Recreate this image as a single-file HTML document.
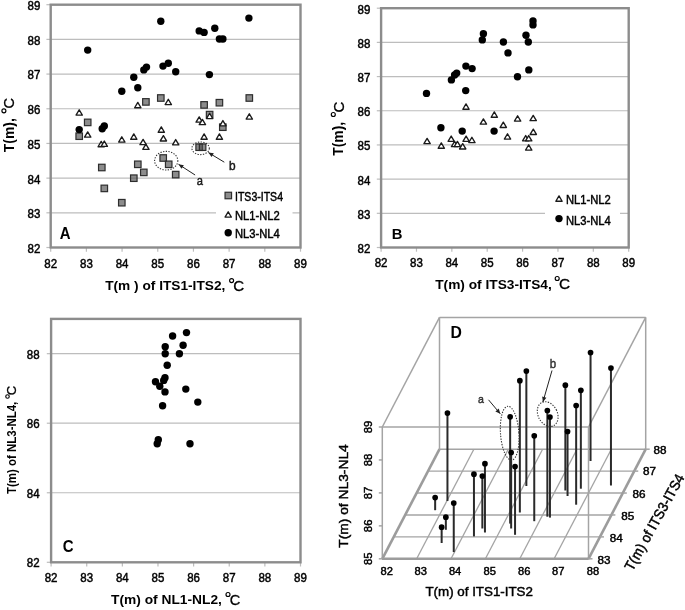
<!DOCTYPE html>
<html><head><meta charset="utf-8"><style>
html,body{margin:0;padding:0;background:#fff;width:685px;height:610px;overflow:hidden;}
body{position:relative;font-family:"Liberation Sans",sans-serif;}
</style></head><body>
<svg width="685" height="610" viewBox="0 0 685 610" style="position:absolute;left:0;top:0;will-change:transform" font-family="Liberation Sans, sans-serif">
<rect width="685" height="610" fill="#fff"/>
<line x1="50.7" y1="212.81428571428572" x2="300.5" y2="212.81428571428572" stroke="#bdbdbd" stroke-width="1.2"/>
<line x1="50.7" y1="178.12857142857143" x2="300.5" y2="178.12857142857143" stroke="#bdbdbd" stroke-width="1.2"/>
<line x1="50.7" y1="143.44285714285712" x2="300.5" y2="143.44285714285712" stroke="#bdbdbd" stroke-width="1.2"/>
<line x1="50.7" y1="108.75714285714284" x2="300.5" y2="108.75714285714284" stroke="#bdbdbd" stroke-width="1.2"/>
<line x1="50.7" y1="74.07142857142856" x2="300.5" y2="74.07142857142856" stroke="#bdbdbd" stroke-width="1.2"/>
<line x1="50.7" y1="39.38571428571424" x2="300.5" y2="39.38571428571424" stroke="#bdbdbd" stroke-width="1.2"/>
<line x1="46.400000000000006" y1="247.5" x2="50.7" y2="247.5" stroke="#bdbdbd" stroke-width="1.2"/>
<line x1="46.400000000000006" y1="212.81428571428572" x2="50.7" y2="212.81428571428572" stroke="#bdbdbd" stroke-width="1.2"/>
<line x1="46.400000000000006" y1="178.12857142857143" x2="50.7" y2="178.12857142857143" stroke="#bdbdbd" stroke-width="1.2"/>
<line x1="46.400000000000006" y1="143.44285714285712" x2="50.7" y2="143.44285714285712" stroke="#bdbdbd" stroke-width="1.2"/>
<line x1="46.400000000000006" y1="108.75714285714284" x2="50.7" y2="108.75714285714284" stroke="#bdbdbd" stroke-width="1.2"/>
<line x1="46.400000000000006" y1="74.07142857142856" x2="50.7" y2="74.07142857142856" stroke="#bdbdbd" stroke-width="1.2"/>
<line x1="46.400000000000006" y1="39.38571428571424" x2="50.7" y2="39.38571428571424" stroke="#bdbdbd" stroke-width="1.2"/>
<line x1="46.400000000000006" y1="4.69999999999996" x2="50.7" y2="4.69999999999996" stroke="#bdbdbd" stroke-width="1.2"/>
<line x1="50.7" y1="247.5" x2="50.7" y2="251.7" stroke="#bdbdbd" stroke-width="1.2"/>
<line x1="86.3857142857143" y1="247.5" x2="86.3857142857143" y2="251.7" stroke="#bdbdbd" stroke-width="1.2"/>
<line x1="122.07142857142858" y1="247.5" x2="122.07142857142858" y2="251.7" stroke="#bdbdbd" stroke-width="1.2"/>
<line x1="157.75714285714287" y1="247.5" x2="157.75714285714287" y2="251.7" stroke="#bdbdbd" stroke-width="1.2"/>
<line x1="193.44285714285718" y1="247.5" x2="193.44285714285718" y2="251.7" stroke="#bdbdbd" stroke-width="1.2"/>
<line x1="229.12857142857143" y1="247.5" x2="229.12857142857143" y2="251.7" stroke="#bdbdbd" stroke-width="1.2"/>
<line x1="264.81428571428575" y1="247.5" x2="264.81428571428575" y2="251.7" stroke="#bdbdbd" stroke-width="1.2"/>
<line x1="300.50000000000006" y1="247.5" x2="300.50000000000006" y2="251.7" stroke="#bdbdbd" stroke-width="1.2"/>
<rect x="50.7" y="4.7" width="249.8" height="242.8" fill="none" stroke="#8c8c8c" stroke-width="2.4"/>
<rect x="216" y="188" width="76.5" height="55" fill="#fff"/>
<rect x="75.95" y="132.95" width="6.5" height="6.5" fill="#505050" fill-opacity="0.66" stroke="#2d2d2d" stroke-width="1.2"/>
<rect x="84.45" y="119.15" width="6.5" height="6.5" fill="#505050" fill-opacity="0.66" stroke="#2d2d2d" stroke-width="1.2"/>
<rect x="98.55" y="164.25" width="6.5" height="6.5" fill="#505050" fill-opacity="0.66" stroke="#2d2d2d" stroke-width="1.2"/>
<rect x="101.05" y="185.15" width="6.5" height="6.5" fill="#505050" fill-opacity="0.66" stroke="#2d2d2d" stroke-width="1.2"/>
<rect x="118.55" y="199.45" width="6.5" height="6.5" fill="#505050" fill-opacity="0.66" stroke="#2d2d2d" stroke-width="1.2"/>
<rect x="130.55" y="174.95" width="6.5" height="6.5" fill="#505050" fill-opacity="0.66" stroke="#2d2d2d" stroke-width="1.2"/>
<rect x="134.55" y="161.05" width="6.5" height="6.5" fill="#505050" fill-opacity="0.66" stroke="#2d2d2d" stroke-width="1.2"/>
<rect x="140.55" y="169.15" width="6.5" height="6.5" fill="#505050" fill-opacity="0.66" stroke="#2d2d2d" stroke-width="1.2"/>
<rect x="142.65" y="98.65" width="6.5" height="6.5" fill="#505050" fill-opacity="0.66" stroke="#2d2d2d" stroke-width="1.2"/>
<rect x="157.55" y="94.75" width="6.5" height="6.5" fill="#505050" fill-opacity="0.66" stroke="#2d2d2d" stroke-width="1.2"/>
<rect x="159.95" y="154.75" width="6.5" height="6.5" fill="#505050" fill-opacity="0.66" stroke="#2d2d2d" stroke-width="1.2"/>
<rect x="165.45" y="161.05" width="6.5" height="6.5" fill="#505050" fill-opacity="0.66" stroke="#2d2d2d" stroke-width="1.2"/>
<rect x="172.45" y="171.35" width="6.5" height="6.5" fill="#505050" fill-opacity="0.66" stroke="#2d2d2d" stroke-width="1.2"/>
<rect x="195.90" y="143.95" width="6.5" height="6.5" fill="#505050" fill-opacity="0.66" stroke="#2d2d2d" stroke-width="1.2"/>
<rect x="199.35" y="143.95" width="6.5" height="6.5" fill="#505050" fill-opacity="0.66" stroke="#2d2d2d" stroke-width="1.2"/>
<rect x="200.85" y="101.65" width="6.5" height="6.5" fill="#505050" fill-opacity="0.66" stroke="#2d2d2d" stroke-width="1.2"/>
<rect x="206.35" y="111.35" width="6.5" height="6.5" fill="#505050" fill-opacity="0.66" stroke="#2d2d2d" stroke-width="1.2"/>
<rect x="216.15" y="99.45" width="6.5" height="6.5" fill="#505050" fill-opacity="0.66" stroke="#2d2d2d" stroke-width="1.2"/>
<rect x="219.55" y="123.95" width="6.5" height="6.5" fill="#505050" fill-opacity="0.66" stroke="#2d2d2d" stroke-width="1.2"/>
<rect x="246.05" y="94.75" width="6.5" height="6.5" fill="#505050" fill-opacity="0.66" stroke="#2d2d2d" stroke-width="1.2"/>
<polygon points="79.20,109.75 82.35,115.05 76.05,115.05" fill="#fff" stroke="#1a1a1a" stroke-width="1.35" stroke-linejoin="round"/>
<polygon points="87.70,131.85 90.85,137.15 84.55,137.15" fill="#fff" stroke="#1a1a1a" stroke-width="1.35" stroke-linejoin="round"/>
<polygon points="101.20,141.45 104.35,146.75 98.05,146.75" fill="#fff" stroke="#1a1a1a" stroke-width="1.35" stroke-linejoin="round"/>
<polygon points="104.30,141.05 107.45,146.35 101.15,146.35" fill="#fff" stroke="#1a1a1a" stroke-width="1.35" stroke-linejoin="round"/>
<polygon points="121.80,136.75 124.95,142.05 118.65,142.05" fill="#fff" stroke="#1a1a1a" stroke-width="1.35" stroke-linejoin="round"/>
<polygon points="133.80,133.95 136.95,139.25 130.65,139.25" fill="#fff" stroke="#1a1a1a" stroke-width="1.35" stroke-linejoin="round"/>
<polygon points="137.80,102.45 140.95,107.75 134.65,107.75" fill="#fff" stroke="#1a1a1a" stroke-width="1.35" stroke-linejoin="round"/>
<polygon points="143.10,139.35 146.25,144.65 139.95,144.65" fill="#fff" stroke="#1a1a1a" stroke-width="1.35" stroke-linejoin="round"/>
<polygon points="145.90,144.05 149.05,149.35 142.75,149.35" fill="#fff" stroke="#1a1a1a" stroke-width="1.35" stroke-linejoin="round"/>
<polygon points="161.30,126.95 164.45,132.25 158.15,132.25" fill="#fff" stroke="#1a1a1a" stroke-width="1.35" stroke-linejoin="round"/>
<polygon points="163.40,135.65 166.55,140.95 160.25,140.95" fill="#fff" stroke="#1a1a1a" stroke-width="1.35" stroke-linejoin="round"/>
<polygon points="168.30,99.25 171.45,104.55 165.15,104.55" fill="#fff" stroke="#1a1a1a" stroke-width="1.35" stroke-linejoin="round"/>
<polygon points="175.70,139.55 178.85,144.85 172.55,144.85" fill="#fff" stroke="#1a1a1a" stroke-width="1.35" stroke-linejoin="round"/>
<polygon points="199.20,116.85 202.35,122.15 196.05,122.15" fill="#fff" stroke="#1a1a1a" stroke-width="1.35" stroke-linejoin="round"/>
<polygon points="202.40,119.35 205.55,124.65 199.25,124.65" fill="#fff" stroke="#1a1a1a" stroke-width="1.35" stroke-linejoin="round"/>
<polygon points="204.10,133.95 207.25,139.25 200.95,139.25" fill="#fff" stroke="#1a1a1a" stroke-width="1.35" stroke-linejoin="round"/>
<polygon points="209.60,113.25 212.75,118.55 206.45,118.55" fill="#fff" stroke="#1a1a1a" stroke-width="1.35" stroke-linejoin="round"/>
<polygon points="219.40,133.95 222.55,139.25 216.25,139.25" fill="#fff" stroke="#1a1a1a" stroke-width="1.35" stroke-linejoin="round"/>
<polygon points="222.90,120.55 226.05,125.85 219.75,125.85" fill="#fff" stroke="#1a1a1a" stroke-width="1.35" stroke-linejoin="round"/>
<polygon points="249.30,113.75 252.45,119.05 246.15,119.05" fill="#fff" stroke="#1a1a1a" stroke-width="1.35" stroke-linejoin="round"/>
<circle cx="79.2" cy="129.6" r="3.7" fill="#000"/>
<circle cx="87.7" cy="50.1" r="3.7" fill="#000"/>
<circle cx="102.2" cy="128.8" r="3.7" fill="#000"/>
<circle cx="104.3" cy="126" r="3.7" fill="#000"/>
<circle cx="121.8" cy="91.2" r="3.7" fill="#000"/>
<circle cx="133.8" cy="77.2" r="3.7" fill="#000"/>
<circle cx="137.8" cy="87.8" r="3.7" fill="#000"/>
<circle cx="143.8" cy="69.9" r="3.7" fill="#000"/>
<circle cx="146.5" cy="67.1" r="3.7" fill="#000"/>
<circle cx="160.8" cy="21.3" r="3.7" fill="#000"/>
<circle cx="163" cy="66.1" r="3.7" fill="#000"/>
<circle cx="168.3" cy="63.3" r="3.7" fill="#000"/>
<circle cx="175.7" cy="71.8" r="3.7" fill="#000"/>
<circle cx="199.2" cy="30.9" r="3.7" fill="#000"/>
<circle cx="204.1" cy="32.4" r="3.7" fill="#000"/>
<circle cx="209.4" cy="74.6" r="3.7" fill="#000"/>
<circle cx="214.8" cy="28.3" r="3.7" fill="#000"/>
<circle cx="219.4" cy="39" r="3.7" fill="#000"/>
<circle cx="222.9" cy="39" r="3.7" fill="#000"/>
<circle cx="248.9" cy="18.1" r="3.7" fill="#000"/>
<rect x="225.05" y="192.25" width="6.5" height="6.5" fill="#505050" fill-opacity="0.66" stroke="#2d2d2d" stroke-width="1.2"/>
<text x="235" y="200.6" font-size="12" font-weight="normal" text-anchor="start" fill="#000" stroke="#000" stroke-width="0.45" textLength="48" lengthAdjust="spacingAndGlyphs" >ITS3-ITS4</text>
<polygon points="228.20,211.75 231.35,217.05 225.05,217.05" fill="#fff" stroke="#1a1a1a" stroke-width="1.35" stroke-linejoin="round"/>
<text x="235" y="219.6" font-size="12" font-weight="normal" text-anchor="start" fill="#000" stroke="#000" stroke-width="0.45" textLength="44.8" lengthAdjust="spacingAndGlyphs" >NL1-NL2</text>
<circle cx="228.2" cy="232.8" r="3.7" fill="#000"/>
<text x="235" y="237.9" font-size="12" font-weight="normal" text-anchor="start" fill="#000" stroke="#000" stroke-width="0.45" textLength="44.8" lengthAdjust="spacingAndGlyphs" >NL3-NL4</text>
<ellipse cx="166.2" cy="160.7" rx="11.6" ry="9.3" fill="none" stroke="#333" stroke-width="1.1" stroke-dasharray="1.3,1.4"/>
<ellipse cx="200.6" cy="148.3" rx="8.7" ry="6.3" fill="none" stroke="#333" stroke-width="1.1" stroke-dasharray="1.3,1.4"/>
<line x1="195.1" y1="175" x2="178.5" y2="164.3" stroke="#222" stroke-width="1.0"/>
<polygon points="178.50,164.30 183.89,165.16 181.51,168.86" fill="#222"/>
<line x1="224.3" y1="162.2" x2="208.4" y2="152.6" stroke="#222" stroke-width="1.0"/>
<polygon points="208.40,152.60 213.82,153.30 211.54,157.07" fill="#222"/>
<text x="199.85" y="184.6" font-size="12" font-weight="normal" text-anchor="middle" fill="#1a1a1a" stroke="#1a1a1a" stroke-width="0.45" textLength="6.2" lengthAdjust="spacingAndGlyphs" >a</text>
<text x="232.2" y="169.6" font-size="12" font-weight="normal" text-anchor="middle" fill="#1a1a1a" stroke="#1a1a1a" stroke-width="0.45" textLength="6.6" lengthAdjust="spacingAndGlyphs" >b</text>
<text x="40.3" y="252.9" font-size="12" font-weight="normal" text-anchor="end" fill="#000" stroke="#000" stroke-width="0.45" textLength="12.8" lengthAdjust="spacingAndGlyphs" >82</text>
<text x="40.3" y="218.21428571428572" font-size="12" font-weight="normal" text-anchor="end" fill="#000" stroke="#000" stroke-width="0.45" textLength="12.8" lengthAdjust="spacingAndGlyphs" >83</text>
<text x="40.3" y="183.52857142857144" font-size="12" font-weight="normal" text-anchor="end" fill="#000" stroke="#000" stroke-width="0.45" textLength="12.8" lengthAdjust="spacingAndGlyphs" >84</text>
<text x="40.3" y="148.84285714285713" font-size="12" font-weight="normal" text-anchor="end" fill="#000" stroke="#000" stroke-width="0.45" textLength="12.8" lengthAdjust="spacingAndGlyphs" >85</text>
<text x="40.3" y="114.15714285714284" font-size="12" font-weight="normal" text-anchor="end" fill="#000" stroke="#000" stroke-width="0.45" textLength="12.8" lengthAdjust="spacingAndGlyphs" >86</text>
<text x="40.3" y="79.47142857142856" font-size="12" font-weight="normal" text-anchor="end" fill="#000" stroke="#000" stroke-width="0.45" textLength="12.8" lengthAdjust="spacingAndGlyphs" >87</text>
<text x="40.3" y="44.78571428571424" font-size="12" font-weight="normal" text-anchor="end" fill="#000" stroke="#000" stroke-width="0.45" textLength="12.8" lengthAdjust="spacingAndGlyphs" >88</text>
<text x="40.3" y="10.09999999999996" font-size="12" font-weight="normal" text-anchor="end" fill="#000" stroke="#000" stroke-width="0.45" textLength="12.8" lengthAdjust="spacingAndGlyphs" >89</text>
<text x="50.7" y="268.4" font-size="12" font-weight="normal" text-anchor="middle" fill="#000" stroke="#000" stroke-width="0.45" textLength="12.8" lengthAdjust="spacingAndGlyphs" >82</text>
<text x="86.3857142857143" y="268.4" font-size="12" font-weight="normal" text-anchor="middle" fill="#000" stroke="#000" stroke-width="0.45" textLength="12.8" lengthAdjust="spacingAndGlyphs" >83</text>
<text x="122.07142857142858" y="268.4" font-size="12" font-weight="normal" text-anchor="middle" fill="#000" stroke="#000" stroke-width="0.45" textLength="12.8" lengthAdjust="spacingAndGlyphs" >84</text>
<text x="157.75714285714287" y="268.4" font-size="12" font-weight="normal" text-anchor="middle" fill="#000" stroke="#000" stroke-width="0.45" textLength="12.8" lengthAdjust="spacingAndGlyphs" >85</text>
<text x="193.44285714285718" y="268.4" font-size="12" font-weight="normal" text-anchor="middle" fill="#000" stroke="#000" stroke-width="0.45" textLength="12.8" lengthAdjust="spacingAndGlyphs" >86</text>
<text x="229.12857142857143" y="268.4" font-size="12" font-weight="normal" text-anchor="middle" fill="#000" stroke="#000" stroke-width="0.45" textLength="12.8" lengthAdjust="spacingAndGlyphs" >87</text>
<text x="264.81428571428575" y="268.4" font-size="12" font-weight="normal" text-anchor="middle" fill="#000" stroke="#000" stroke-width="0.45" textLength="12.8" lengthAdjust="spacingAndGlyphs" >88</text>
<text x="300.50000000000006" y="268.4" font-size="12" font-weight="normal" text-anchor="middle" fill="#000" stroke="#000" stroke-width="0.45" textLength="12.8" lengthAdjust="spacingAndGlyphs" >89</text>
<text transform="translate(65.1,239) scale(0.94,1)" font-size="15.9" font-weight="bold" text-anchor="middle" fill="#000" >A</text>
<g transform="rotate(-90)">
<text x="-152.2" y="13.6" font-size="14.2" font-weight="bold" text-anchor="start" textLength="34" lengthAdjust="spacingAndGlyphs">T(m),</text>
<circle cx="-110.8" cy="3.9" r="2.0" fill="none" stroke="#000" stroke-width="1.15"/>
<text x="-108.5" y="14.0" font-size="14.6" text-anchor="start" stroke="#000" stroke-width="0.3">C</text>
</g>
<text x="105.2" y="290.4" font-size="13.3" font-weight="bold" text-anchor="start" textLength="120.1" lengthAdjust="spacingAndGlyphs">T(m ) of ITS1-ITS2,</text>
<circle cx="231.6" cy="280.6" r="2.0" fill="none" stroke="#000" stroke-width="1.15"/>
<text x="233.2" y="290.9" font-size="15.1" text-anchor="start" stroke="#000" stroke-width="0.3">C</text>
<line x1="381.1" y1="213.31428571428572" x2="628.7" y2="213.31428571428572" stroke="#bdbdbd" stroke-width="1.2"/>
<line x1="381.1" y1="179.12857142857143" x2="628.7" y2="179.12857142857143" stroke="#bdbdbd" stroke-width="1.2"/>
<line x1="381.1" y1="144.94285714285712" x2="628.7" y2="144.94285714285712" stroke="#bdbdbd" stroke-width="1.2"/>
<line x1="381.1" y1="110.75714285714284" x2="628.7" y2="110.75714285714284" stroke="#bdbdbd" stroke-width="1.2"/>
<line x1="381.1" y1="76.57142857142856" x2="628.7" y2="76.57142857142856" stroke="#bdbdbd" stroke-width="1.2"/>
<line x1="381.1" y1="42.38571428571424" x2="628.7" y2="42.38571428571424" stroke="#bdbdbd" stroke-width="1.2"/>
<line x1="376.8" y1="247.5" x2="381.1" y2="247.5" stroke="#bdbdbd" stroke-width="1.2"/>
<line x1="376.8" y1="213.31428571428572" x2="381.1" y2="213.31428571428572" stroke="#bdbdbd" stroke-width="1.2"/>
<line x1="376.8" y1="179.12857142857143" x2="381.1" y2="179.12857142857143" stroke="#bdbdbd" stroke-width="1.2"/>
<line x1="376.8" y1="144.94285714285712" x2="381.1" y2="144.94285714285712" stroke="#bdbdbd" stroke-width="1.2"/>
<line x1="376.8" y1="110.75714285714284" x2="381.1" y2="110.75714285714284" stroke="#bdbdbd" stroke-width="1.2"/>
<line x1="376.8" y1="76.57142857142856" x2="381.1" y2="76.57142857142856" stroke="#bdbdbd" stroke-width="1.2"/>
<line x1="376.8" y1="42.38571428571424" x2="381.1" y2="42.38571428571424" stroke="#bdbdbd" stroke-width="1.2"/>
<line x1="376.8" y1="8.19999999999996" x2="381.1" y2="8.19999999999996" stroke="#bdbdbd" stroke-width="1.2"/>
<line x1="381.1" y1="247.5" x2="381.1" y2="251.7" stroke="#bdbdbd" stroke-width="1.2"/>
<line x1="416.4714285714286" y1="247.5" x2="416.4714285714286" y2="251.7" stroke="#bdbdbd" stroke-width="1.2"/>
<line x1="451.84285714285716" y1="247.5" x2="451.84285714285716" y2="251.7" stroke="#bdbdbd" stroke-width="1.2"/>
<line x1="487.2142857142858" y1="247.5" x2="487.2142857142858" y2="251.7" stroke="#bdbdbd" stroke-width="1.2"/>
<line x1="522.5857142857143" y1="247.5" x2="522.5857142857143" y2="251.7" stroke="#bdbdbd" stroke-width="1.2"/>
<line x1="557.9571428571429" y1="247.5" x2="557.9571428571429" y2="251.7" stroke="#bdbdbd" stroke-width="1.2"/>
<line x1="593.3285714285714" y1="247.5" x2="593.3285714285714" y2="251.7" stroke="#bdbdbd" stroke-width="1.2"/>
<line x1="628.7" y1="247.5" x2="628.7" y2="251.7" stroke="#bdbdbd" stroke-width="1.2"/>
<rect x="381.1" y="8.2" width="247.60000000000002" height="239.3" fill="none" stroke="#8c8c8c" stroke-width="2.4"/>
<rect x="545" y="190" width="75" height="40" fill="#fff"/>
<polygon points="427.10,138.35 430.25,143.65 423.95,143.65" fill="#fff" stroke="#1a1a1a" stroke-width="1.35" stroke-linejoin="round"/>
<polygon points="441.30,142.95 444.45,148.25 438.15,148.25" fill="#fff" stroke="#1a1a1a" stroke-width="1.35" stroke-linejoin="round"/>
<polygon points="451.20,136.05 454.35,141.35 448.05,141.35" fill="#fff" stroke="#1a1a1a" stroke-width="1.35" stroke-linejoin="round"/>
<polygon points="454.60,141.35 457.75,146.65 451.45,146.65" fill="#fff" stroke="#1a1a1a" stroke-width="1.35" stroke-linejoin="round"/>
<polygon points="457.40,141.35 460.55,146.65 454.25,146.65" fill="#fff" stroke="#1a1a1a" stroke-width="1.35" stroke-linejoin="round"/>
<polygon points="462.70,143.65 465.85,148.95 459.55,148.95" fill="#fff" stroke="#1a1a1a" stroke-width="1.35" stroke-linejoin="round"/>
<polygon points="466.00,103.95 469.15,109.25 462.85,109.25" fill="#fff" stroke="#1a1a1a" stroke-width="1.35" stroke-linejoin="round"/>
<polygon points="466.10,136.05 469.25,141.35 462.95,141.35" fill="#fff" stroke="#1a1a1a" stroke-width="1.35" stroke-linejoin="round"/>
<polygon points="471.90,137.25 475.05,142.55 468.75,142.55" fill="#fff" stroke="#1a1a1a" stroke-width="1.35" stroke-linejoin="round"/>
<polygon points="483.40,118.85 486.55,124.15 480.25,124.15" fill="#fff" stroke="#1a1a1a" stroke-width="1.35" stroke-linejoin="round"/>
<polygon points="494.30,111.95 497.45,117.25 491.15,117.25" fill="#fff" stroke="#1a1a1a" stroke-width="1.35" stroke-linejoin="round"/>
<polygon points="503.30,122.15 506.45,127.45 500.15,127.45" fill="#fff" stroke="#1a1a1a" stroke-width="1.35" stroke-linejoin="round"/>
<polygon points="507.50,133.75 510.65,139.05 504.35,139.05" fill="#fff" stroke="#1a1a1a" stroke-width="1.35" stroke-linejoin="round"/>
<polygon points="517.60,115.75 520.75,121.05 514.45,121.05" fill="#fff" stroke="#1a1a1a" stroke-width="1.35" stroke-linejoin="round"/>
<polygon points="525.70,135.55 528.85,140.85 522.55,140.85" fill="#fff" stroke="#1a1a1a" stroke-width="1.35" stroke-linejoin="round"/>
<polygon points="528.70,135.55 531.85,140.85 525.55,140.85" fill="#fff" stroke="#1a1a1a" stroke-width="1.35" stroke-linejoin="round"/>
<polygon points="528.70,144.75 531.85,150.05 525.55,150.05" fill="#fff" stroke="#1a1a1a" stroke-width="1.35" stroke-linejoin="round"/>
<polygon points="533.20,115.35 536.35,120.65 530.05,120.65" fill="#fff" stroke="#1a1a1a" stroke-width="1.35" stroke-linejoin="round"/>
<polygon points="533.30,129.15 536.45,134.45 530.15,134.45" fill="#fff" stroke="#1a1a1a" stroke-width="1.35" stroke-linejoin="round"/>
<circle cx="426.5" cy="93.4" r="3.7" fill="#000"/>
<circle cx="440.9" cy="127.7" r="3.7" fill="#000"/>
<circle cx="451.4" cy="79.9" r="3.7" fill="#000"/>
<circle cx="454.6" cy="75" r="3.7" fill="#000"/>
<circle cx="456.7" cy="73.1" r="3.7" fill="#000"/>
<circle cx="462.2" cy="131.1" r="3.7" fill="#000"/>
<circle cx="465.7" cy="90.6" r="3.7" fill="#000"/>
<circle cx="465.9" cy="66.1" r="3.7" fill="#000"/>
<circle cx="472.1" cy="68.6" r="3.7" fill="#000"/>
<circle cx="482.3" cy="39.9" r="3.7" fill="#000"/>
<circle cx="483.4" cy="33.7" r="3.7" fill="#000"/>
<circle cx="494.1" cy="131.1" r="3.7" fill="#000"/>
<circle cx="503.4" cy="42" r="3.7" fill="#000"/>
<circle cx="508" cy="52.9" r="3.7" fill="#000"/>
<circle cx="517.5" cy="76.7" r="3.7" fill="#000"/>
<circle cx="526" cy="35.2" r="3.7" fill="#000"/>
<circle cx="528.3" cy="42" r="3.7" fill="#000"/>
<circle cx="528.8" cy="69.9" r="3.7" fill="#000"/>
<circle cx="533" cy="20.9" r="3.7" fill="#000"/>
<circle cx="533" cy="24.9" r="3.7" fill="#000"/>
<polygon points="559.00,195.95 562.15,201.25 555.85,201.25" fill="#fff" stroke="#1a1a1a" stroke-width="1.35" stroke-linejoin="round"/>
<text x="566" y="204.2" font-size="12" font-weight="normal" text-anchor="start" fill="#000" stroke="#000" stroke-width="0.45" textLength="44.8" lengthAdjust="spacingAndGlyphs" >NL1-NL2</text>
<circle cx="559" cy="218.6" r="3.7" fill="#000"/>
<text x="566" y="224.8" font-size="12" font-weight="normal" text-anchor="start" fill="#000" stroke="#000" stroke-width="0.45" textLength="44.8" lengthAdjust="spacingAndGlyphs" >NL3-NL4</text>
<text x="370.3" y="252.9" font-size="12" font-weight="normal" text-anchor="end" fill="#000" stroke="#000" stroke-width="0.45" textLength="12.8" lengthAdjust="spacingAndGlyphs" >82</text>
<text x="370.3" y="218.71428571428572" font-size="12" font-weight="normal" text-anchor="end" fill="#000" stroke="#000" stroke-width="0.45" textLength="12.8" lengthAdjust="spacingAndGlyphs" >83</text>
<text x="370.3" y="184.52857142857144" font-size="12" font-weight="normal" text-anchor="end" fill="#000" stroke="#000" stroke-width="0.45" textLength="12.8" lengthAdjust="spacingAndGlyphs" >84</text>
<text x="370.3" y="150.34285714285713" font-size="12" font-weight="normal" text-anchor="end" fill="#000" stroke="#000" stroke-width="0.45" textLength="12.8" lengthAdjust="spacingAndGlyphs" >85</text>
<text x="370.3" y="116.15714285714284" font-size="12" font-weight="normal" text-anchor="end" fill="#000" stroke="#000" stroke-width="0.45" textLength="12.8" lengthAdjust="spacingAndGlyphs" >86</text>
<text x="370.3" y="81.97142857142856" font-size="12" font-weight="normal" text-anchor="end" fill="#000" stroke="#000" stroke-width="0.45" textLength="12.8" lengthAdjust="spacingAndGlyphs" >87</text>
<text x="370.3" y="47.78571428571424" font-size="12" font-weight="normal" text-anchor="end" fill="#000" stroke="#000" stroke-width="0.45" textLength="12.8" lengthAdjust="spacingAndGlyphs" >88</text>
<text x="370.3" y="13.59999999999996" font-size="12" font-weight="normal" text-anchor="end" fill="#000" stroke="#000" stroke-width="0.45" textLength="12.8" lengthAdjust="spacingAndGlyphs" >89</text>
<text x="381.1" y="266.9" font-size="12" font-weight="normal" text-anchor="middle" fill="#000" stroke="#000" stroke-width="0.45" textLength="12.8" lengthAdjust="spacingAndGlyphs" >82</text>
<text x="416.4714285714286" y="266.9" font-size="12" font-weight="normal" text-anchor="middle" fill="#000" stroke="#000" stroke-width="0.45" textLength="12.8" lengthAdjust="spacingAndGlyphs" >83</text>
<text x="451.84285714285716" y="266.9" font-size="12" font-weight="normal" text-anchor="middle" fill="#000" stroke="#000" stroke-width="0.45" textLength="12.8" lengthAdjust="spacingAndGlyphs" >84</text>
<text x="487.2142857142858" y="266.9" font-size="12" font-weight="normal" text-anchor="middle" fill="#000" stroke="#000" stroke-width="0.45" textLength="12.8" lengthAdjust="spacingAndGlyphs" >85</text>
<text x="522.5857142857143" y="266.9" font-size="12" font-weight="normal" text-anchor="middle" fill="#000" stroke="#000" stroke-width="0.45" textLength="12.8" lengthAdjust="spacingAndGlyphs" >86</text>
<text x="557.9571428571429" y="266.9" font-size="12" font-weight="normal" text-anchor="middle" fill="#000" stroke="#000" stroke-width="0.45" textLength="12.8" lengthAdjust="spacingAndGlyphs" >87</text>
<text x="593.3285714285714" y="266.9" font-size="12" font-weight="normal" text-anchor="middle" fill="#000" stroke="#000" stroke-width="0.45" textLength="12.8" lengthAdjust="spacingAndGlyphs" >88</text>
<text x="628.7" y="266.9" font-size="12" font-weight="normal" text-anchor="middle" fill="#000" stroke="#000" stroke-width="0.45" textLength="12.8" lengthAdjust="spacingAndGlyphs" >89</text>
<text transform="translate(397.05,238.8) scale(0.97,1)" font-size="15.3" font-weight="bold" text-anchor="middle" fill="#000" >B</text>
<g transform="rotate(-90)">
<text x="-155.8" y="343.1" font-size="14.2" font-weight="bold" text-anchor="start" textLength="34" lengthAdjust="spacingAndGlyphs">T(m),</text>
<circle cx="-114.5" cy="333.3" r="2.0" fill="none" stroke="#000" stroke-width="1.15"/>
<text x="-112.4" y="343.8" font-size="15.0" text-anchor="start" stroke="#000" stroke-width="0.3">C</text>
</g>
<text x="435.2" y="288.6" font-size="13.3" font-weight="bold" text-anchor="start" textLength="116.6" lengthAdjust="spacingAndGlyphs">T(m) of ITS3-ITS4,</text>
<circle cx="557.2" cy="278.5" r="2.0" fill="none" stroke="#000" stroke-width="1.15"/>
<text x="559.1" y="288.9" font-size="15.4" text-anchor="start" stroke="#000" stroke-width="0.3">C</text>
<line x1="51.1" y1="492.7571428571428" x2="300.5" y2="492.7571428571428" stroke="#bdbdbd" stroke-width="1.2"/>
<line x1="51.1" y1="423.21428571428567" x2="300.5" y2="423.21428571428567" stroke="#bdbdbd" stroke-width="1.2"/>
<line x1="51.1" y1="353.6714285714286" x2="300.5" y2="353.6714285714286" stroke="#bdbdbd" stroke-width="1.2"/>
<line x1="46.800000000000004" y1="562.3" x2="51.1" y2="562.3" stroke="#bdbdbd" stroke-width="1.2"/>
<line x1="46.800000000000004" y1="492.7571428571428" x2="51.1" y2="492.7571428571428" stroke="#bdbdbd" stroke-width="1.2"/>
<line x1="46.800000000000004" y1="423.21428571428567" x2="51.1" y2="423.21428571428567" stroke="#bdbdbd" stroke-width="1.2"/>
<line x1="46.800000000000004" y1="353.6714285714286" x2="51.1" y2="353.6714285714286" stroke="#bdbdbd" stroke-width="1.2"/>
<line x1="51.1" y1="562.3" x2="51.1" y2="566.5" stroke="#bdbdbd" stroke-width="1.2"/>
<line x1="86.72857142857143" y1="562.3" x2="86.72857142857143" y2="566.5" stroke="#bdbdbd" stroke-width="1.2"/>
<line x1="122.35714285714286" y1="562.3" x2="122.35714285714286" y2="566.5" stroke="#bdbdbd" stroke-width="1.2"/>
<line x1="157.98571428571427" y1="562.3" x2="157.98571428571427" y2="566.5" stroke="#bdbdbd" stroke-width="1.2"/>
<line x1="193.6142857142857" y1="562.3" x2="193.6142857142857" y2="566.5" stroke="#bdbdbd" stroke-width="1.2"/>
<line x1="229.24285714285713" y1="562.3" x2="229.24285714285713" y2="566.5" stroke="#bdbdbd" stroke-width="1.2"/>
<line x1="264.87142857142857" y1="562.3" x2="264.87142857142857" y2="566.5" stroke="#bdbdbd" stroke-width="1.2"/>
<line x1="300.5" y1="562.3" x2="300.5" y2="566.5" stroke="#bdbdbd" stroke-width="1.2"/>
<rect x="51.1" y="318.9" width="249.4" height="243.39999999999998" fill="none" stroke="#8c8c8c" stroke-width="2.4"/>
<circle cx="186.5" cy="332.6" r="3.7" fill="#000"/>
<circle cx="172.6" cy="336" r="3.7" fill="#000"/>
<circle cx="165.2" cy="346.8" r="3.7" fill="#000"/>
<circle cx="183.1" cy="345.2" r="3.7" fill="#000"/>
<circle cx="165.2" cy="353.7" r="3.7" fill="#000"/>
<circle cx="179.4" cy="353.7" r="3.7" fill="#000"/>
<circle cx="167.2" cy="365.2" r="3.7" fill="#000"/>
<circle cx="165" cy="377.8" r="3.7" fill="#000"/>
<circle cx="163.7" cy="380.4" r="3.7" fill="#000"/>
<circle cx="155.5" cy="381.7" r="3.7" fill="#000"/>
<circle cx="159.8" cy="386.3" r="3.7" fill="#000"/>
<circle cx="165" cy="391.9" r="3.7" fill="#000"/>
<circle cx="185.8" cy="389.1" r="3.7" fill="#000"/>
<circle cx="162.6" cy="405.8" r="3.7" fill="#000"/>
<circle cx="197.8" cy="402.1" r="3.7" fill="#000"/>
<circle cx="158.3" cy="439.7" r="3.7" fill="#000"/>
<circle cx="157.2" cy="443.8" r="3.7" fill="#000"/>
<circle cx="190" cy="443.8" r="3.7" fill="#000"/>
<text x="39.6" y="567.3" font-size="12" font-weight="normal" text-anchor="end" fill="#000" stroke="#000" stroke-width="0.45" textLength="12.8" lengthAdjust="spacingAndGlyphs" >82</text>
<text x="39.6" y="497.7571428571428" font-size="12" font-weight="normal" text-anchor="end" fill="#000" stroke="#000" stroke-width="0.45" textLength="12.8" lengthAdjust="spacingAndGlyphs" >84</text>
<text x="39.6" y="428.21428571428567" font-size="12" font-weight="normal" text-anchor="end" fill="#000" stroke="#000" stroke-width="0.45" textLength="12.8" lengthAdjust="spacingAndGlyphs" >86</text>
<text x="39.6" y="358.6714285714286" font-size="12" font-weight="normal" text-anchor="end" fill="#000" stroke="#000" stroke-width="0.45" textLength="12.8" lengthAdjust="spacingAndGlyphs" >88</text>
<text x="51.1" y="582.1" font-size="12" font-weight="normal" text-anchor="middle" fill="#000" stroke="#000" stroke-width="0.45" textLength="12.8" lengthAdjust="spacingAndGlyphs" >82</text>
<text x="86.72857142857143" y="582.1" font-size="12" font-weight="normal" text-anchor="middle" fill="#000" stroke="#000" stroke-width="0.45" textLength="12.8" lengthAdjust="spacingAndGlyphs" >83</text>
<text x="122.35714285714286" y="582.1" font-size="12" font-weight="normal" text-anchor="middle" fill="#000" stroke="#000" stroke-width="0.45" textLength="12.8" lengthAdjust="spacingAndGlyphs" >84</text>
<text x="157.98571428571427" y="582.1" font-size="12" font-weight="normal" text-anchor="middle" fill="#000" stroke="#000" stroke-width="0.45" textLength="12.8" lengthAdjust="spacingAndGlyphs" >85</text>
<text x="193.6142857142857" y="582.1" font-size="12" font-weight="normal" text-anchor="middle" fill="#000" stroke="#000" stroke-width="0.45" textLength="12.8" lengthAdjust="spacingAndGlyphs" >86</text>
<text x="229.24285714285713" y="582.1" font-size="12" font-weight="normal" text-anchor="middle" fill="#000" stroke="#000" stroke-width="0.45" textLength="12.8" lengthAdjust="spacingAndGlyphs" >87</text>
<text x="264.87142857142857" y="582.1" font-size="12" font-weight="normal" text-anchor="middle" fill="#000" stroke="#000" stroke-width="0.45" textLength="12.8" lengthAdjust="spacingAndGlyphs" >88</text>
<text x="300.5" y="582.1" font-size="12" font-weight="normal" text-anchor="middle" fill="#000" stroke="#000" stroke-width="0.45" textLength="12.8" lengthAdjust="spacingAndGlyphs" >89</text>
<text transform="translate(68.15,551.6) scale(0.95,1)" font-size="15.8" font-weight="bold" text-anchor="middle" fill="#000" >C</text>
<g transform="rotate(-90)">
<text x="-494.0" y="15.5" font-size="13.4" font-weight="bold" text-anchor="start" textLength="92.3" lengthAdjust="spacingAndGlyphs">T(m) of NL3-NL4,</text>
<circle cx="-396.5" cy="7.5" r="1.75" fill="none" stroke="#000" stroke-width="1.15"/>
<text x="-395.2" y="16.1" font-size="13.0" text-anchor="start" stroke="#000" stroke-width="0.3">C</text>
</g>
<text x="111.1" y="604.4" font-size="13.3" font-weight="bold" text-anchor="start" textLength="110.8" lengthAdjust="spacingAndGlyphs">T(m) of NL1-NL2,</text>
<circle cx="228" cy="594.5" r="2.0" fill="none" stroke="#000" stroke-width="1.15"/>
<text x="229.7" y="604.5" font-size="14.6" text-anchor="start" stroke="#000" stroke-width="0.3">C</text>
<line x1="393.74" y1="536.88" x2="599.94" y2="536.88" stroke="#a4a4a4" stroke-width="1.35"/>
<line x1="405.18" y1="514.9599999999999" x2="611.38" y2="514.9599999999999" stroke="#a4a4a4" stroke-width="1.35"/>
<line x1="416.62" y1="493.03999999999996" x2="622.8199999999999" y2="493.03999999999996" stroke="#a4a4a4" stroke-width="1.35"/>
<line x1="428.06" y1="471.11999999999995" x2="634.26" y2="471.11999999999995" stroke="#a4a4a4" stroke-width="1.35"/>
<line x1="439.5" y1="449.19999999999993" x2="645.7" y2="449.19999999999993" stroke="#a4a4a4" stroke-width="1.35"/>
<line x1="416.6666666666667" y1="558.8" x2="473.8666666666667" y2="449.19999999999993" stroke="#a4a4a4" stroke-width="1.3"/>
<line x1="451.03333333333336" y1="558.8" x2="508.23333333333335" y2="449.19999999999993" stroke="#a4a4a4" stroke-width="1.3"/>
<line x1="485.4" y1="558.8" x2="542.6" y2="449.19999999999993" stroke="#a4a4a4" stroke-width="1.3"/>
<line x1="519.7666666666667" y1="558.8" x2="576.9666666666667" y2="449.19999999999993" stroke="#a4a4a4" stroke-width="1.3"/>
<line x1="554.1333333333333" y1="558.8" x2="611.3333333333334" y2="449.19999999999993" stroke="#a4a4a4" stroke-width="1.3"/>
<line x1="382.3" y1="426.99999999999994" x2="382.3" y2="558.8" stroke="#a4a4a4" stroke-width="1.5"/>
<line x1="588.5" y1="426.99999999999994" x2="588.5" y2="558.8" stroke="#a4a4a4" stroke-width="1.5"/>
<line x1="382.3" y1="426.99999999999994" x2="588.5" y2="426.99999999999994" stroke="#a4a4a4" stroke-width="1.5"/>
<line x1="382.3" y1="426.99999999999994" x2="439.5" y2="317.4" stroke="#a4a4a4" stroke-width="1.5"/>
<line x1="588.5" y1="426.99999999999994" x2="645.7" y2="317.4" stroke="#a4a4a4" stroke-width="1.5"/>
<line x1="439.5" y1="317.4" x2="645.7" y2="317.4" stroke="#a4a4a4" stroke-width="1.5"/>
<line x1="439.5" y1="317.4" x2="439.5" y2="449.19999999999993" stroke="#a4a4a4" stroke-width="1.5"/>
<line x1="645.7" y1="317.4" x2="645.7" y2="449.19999999999993" stroke="#a4a4a4" stroke-width="1.5"/>
<line x1="382.0" y1="558.8" x2="588.8" y2="558.8" stroke="#9c9c9c" stroke-width="2.6"/>
<line x1="382.3" y1="558.8" x2="439.5" y2="449.19999999999993" stroke="#9c9c9c" stroke-width="2.6"/>
<line x1="588.5" y1="558.8" x2="645.7" y2="449.19999999999993" stroke="#9c9c9c" stroke-width="2.6"/>
<line x1="378.8" y1="558.8" x2="382.3" y2="558.8" stroke="#a4a4a4" stroke-width="1.5"/>
<line x1="378.8" y1="525.8499999999999" x2="382.3" y2="525.8499999999999" stroke="#a4a4a4" stroke-width="1.5"/>
<line x1="378.8" y1="492.9" x2="382.3" y2="492.9" stroke="#a4a4a4" stroke-width="1.5"/>
<line x1="378.8" y1="459.94999999999993" x2="382.3" y2="459.94999999999993" stroke="#a4a4a4" stroke-width="1.5"/>
<line x1="378.8" y1="426.99999999999994" x2="382.3" y2="426.99999999999994" stroke="#a4a4a4" stroke-width="1.5"/>
<line x1="588.5" y1="558.8" x2="592.5" y2="558.8" stroke="#a4a4a4" stroke-width="1.5"/>
<line x1="599.94" y1="536.88" x2="603.94" y2="536.88" stroke="#a4a4a4" stroke-width="1.5"/>
<line x1="611.38" y1="514.9599999999999" x2="615.38" y2="514.9599999999999" stroke="#a4a4a4" stroke-width="1.5"/>
<line x1="622.82" y1="493.03999999999996" x2="626.82" y2="493.03999999999996" stroke="#a4a4a4" stroke-width="1.5"/>
<line x1="634.26" y1="471.11999999999995" x2="638.26" y2="471.11999999999995" stroke="#a4a4a4" stroke-width="1.5"/>
<line x1="645.7" y1="449.19999999999993" x2="649.7" y2="449.19999999999993" stroke="#a4a4a4" stroke-width="1.5"/>
<line x1="447.45" y1="413.1" x2="447.45" y2="501" stroke="#2a2a2a" stroke-width="2.0"/>
<line x1="435.15" y1="497.6" x2="435.15" y2="510.2" stroke="#2a2a2a" stroke-width="2.0"/>
<line x1="445.84999999999997" y1="517.2" x2="445.84999999999997" y2="529.8" stroke="#2a2a2a" stroke-width="2.0"/>
<line x1="441.65" y1="527.2" x2="441.65" y2="543" stroke="#2a2a2a" stroke-width="2.0"/>
<line x1="453.75" y1="503.1" x2="453.75" y2="552.1" stroke="#2a2a2a" stroke-width="2.0"/>
<line x1="473.95" y1="474.2" x2="473.95" y2="536.4" stroke="#2a2a2a" stroke-width="2.0"/>
<line x1="482.34999999999997" y1="476.1" x2="482.34999999999997" y2="528.5" stroke="#2a2a2a" stroke-width="2.0"/>
<line x1="484.95" y1="463.7" x2="484.95" y2="532.5" stroke="#2a2a2a" stroke-width="2.0"/>
<line x1="510.15" y1="416.8" x2="510.15" y2="523.6" stroke="#2a2a2a" stroke-width="2.0"/>
<line x1="511.15" y1="452.5" x2="511.15" y2="528.5" stroke="#2a2a2a" stroke-width="2.0"/>
<line x1="515.05" y1="466.6" x2="515.05" y2="534.8" stroke="#2a2a2a" stroke-width="2.0"/>
<line x1="519.85" y1="380.7" x2="519.85" y2="512.5" stroke="#2a2a2a" stroke-width="2.0"/>
<line x1="526.35" y1="371.1" x2="526.35" y2="486" stroke="#2a2a2a" stroke-width="2.0"/>
<line x1="534.25" y1="435.8" x2="534.25" y2="521.2" stroke="#2a2a2a" stroke-width="2.0"/>
<line x1="547.35" y1="410.5" x2="547.35" y2="516.7" stroke="#2a2a2a" stroke-width="2.0"/>
<line x1="549.9499999999999" y1="417" x2="549.9499999999999" y2="517.6" stroke="#2a2a2a" stroke-width="2.0"/>
<line x1="565.35" y1="385.2" x2="565.35" y2="490.5" stroke="#2a2a2a" stroke-width="2.0"/>
<line x1="567.55" y1="431.5" x2="567.55" y2="496" stroke="#2a2a2a" stroke-width="2.0"/>
<line x1="576.15" y1="405.5" x2="576.15" y2="504.7" stroke="#2a2a2a" stroke-width="2.0"/>
<line x1="580.85" y1="390.3" x2="580.85" y2="488.7" stroke="#2a2a2a" stroke-width="2.0"/>
<line x1="590.55" y1="352.6" x2="590.55" y2="461" stroke="#2a2a2a" stroke-width="2.0"/>
<line x1="610.9499999999999" y1="368.1" x2="610.9499999999999" y2="485.5" stroke="#2a2a2a" stroke-width="2.0"/>
<circle cx="447.45" cy="413.1" r="2.85" fill="#000"/>
<circle cx="435.15" cy="497.6" r="2.85" fill="#000"/>
<circle cx="445.84999999999997" cy="517.2" r="2.85" fill="#000"/>
<circle cx="441.65" cy="527.2" r="2.85" fill="#000"/>
<circle cx="453.75" cy="503.1" r="2.85" fill="#000"/>
<circle cx="473.95" cy="474.2" r="2.85" fill="#000"/>
<circle cx="482.34999999999997" cy="476.1" r="2.85" fill="#000"/>
<circle cx="484.95" cy="463.7" r="2.85" fill="#000"/>
<circle cx="510.15" cy="416.8" r="2.85" fill="#000"/>
<circle cx="511.15" cy="452.5" r="2.85" fill="#000"/>
<circle cx="515.05" cy="466.6" r="2.85" fill="#000"/>
<circle cx="519.85" cy="380.7" r="2.85" fill="#000"/>
<circle cx="526.35" cy="371.1" r="2.85" fill="#000"/>
<circle cx="534.25" cy="435.8" r="2.85" fill="#000"/>
<circle cx="547.35" cy="410.5" r="2.85" fill="#000"/>
<circle cx="549.9499999999999" cy="417" r="2.85" fill="#000"/>
<circle cx="565.35" cy="385.2" r="2.85" fill="#000"/>
<circle cx="567.55" cy="431.5" r="2.85" fill="#000"/>
<circle cx="576.15" cy="405.5" r="2.85" fill="#000"/>
<circle cx="580.85" cy="390.3" r="2.85" fill="#000"/>
<circle cx="590.55" cy="352.6" r="2.85" fill="#000"/>
<circle cx="610.9499999999999" cy="368.1" r="2.85" fill="#000"/>
<ellipse cx="509.7" cy="433.2" rx="9.2" ry="27" fill="none" stroke="#333" stroke-width="1.1" stroke-dasharray="1.3,1.4" transform="rotate(-4 509.7 433.2)"/>
<ellipse cx="547.7" cy="414.1" rx="9.6" ry="13" fill="none" stroke="#333" stroke-width="1.1" stroke-dasharray="1.3,1.4" transform="rotate(-27 547.7 414.1)"/>
<line x1="488.5" y1="399.8" x2="500.3" y2="413.8" stroke="#222" stroke-width="1.0"/>
<polygon points="500.30,413.80 495.40,411.39 498.76,408.56" fill="#222"/>
<line x1="552" y1="370.5" x2="542.9" y2="402" stroke="#222" stroke-width="1.0"/>
<polygon points="542.90,402.00 542.17,396.59 546.40,397.81" fill="#222"/>
<text x="480.95" y="402.5" font-size="11.2" font-weight="normal" text-anchor="middle" fill="#333" stroke="#333" stroke-width="0.45" textLength="5.9" lengthAdjust="spacingAndGlyphs" >a</text>
<text x="553" y="367.8" font-size="12" font-weight="normal" text-anchor="middle" fill="#333" stroke="#333" stroke-width="0.45" textLength="6.4" lengthAdjust="spacingAndGlyphs" >b</text>
<text transform="translate(456.2,337.7) scale(0.95,1)" font-size="16.6" font-weight="bold" text-anchor="middle" fill="#000" >D</text>
<text transform="translate(371.8,558.8) rotate(-90)" font-size="11" font-weight="normal" text-anchor="middle" fill="#000" stroke="#000" stroke-width="0.45" textLength="12.6" lengthAdjust="spacingAndGlyphs" >85</text>
<text transform="translate(371.8,525.8499999999999) rotate(-90)" font-size="11" font-weight="normal" text-anchor="middle" fill="#000" stroke="#000" stroke-width="0.45" textLength="12.6" lengthAdjust="spacingAndGlyphs" >86</text>
<text transform="translate(371.8,492.9) rotate(-90)" font-size="11" font-weight="normal" text-anchor="middle" fill="#000" stroke="#000" stroke-width="0.45" textLength="12.6" lengthAdjust="spacingAndGlyphs" >87</text>
<text transform="translate(371.8,459.94999999999993) rotate(-90)" font-size="11" font-weight="normal" text-anchor="middle" fill="#000" stroke="#000" stroke-width="0.45" textLength="12.6" lengthAdjust="spacingAndGlyphs" >88</text>
<text transform="translate(371.8,426.99999999999994) rotate(-90)" font-size="11" font-weight="normal" text-anchor="middle" fill="#000" stroke="#000" stroke-width="0.45" textLength="12.6" lengthAdjust="spacingAndGlyphs" >89</text>
<text x="386.8" y="574.5" font-size="11" font-weight="normal" text-anchor="middle" fill="#000" stroke="#000" stroke-width="0.45" textLength="12.4" lengthAdjust="spacingAndGlyphs" >82</text>
<text x="420.8" y="574.5" font-size="11" font-weight="normal" text-anchor="middle" fill="#000" stroke="#000" stroke-width="0.45" textLength="12.4" lengthAdjust="spacingAndGlyphs" >83</text>
<text x="455.1" y="574.5" font-size="11" font-weight="normal" text-anchor="middle" fill="#000" stroke="#000" stroke-width="0.45" textLength="12.4" lengthAdjust="spacingAndGlyphs" >84</text>
<text x="489.8" y="574.5" font-size="11" font-weight="normal" text-anchor="middle" fill="#000" stroke="#000" stroke-width="0.45" textLength="12.4" lengthAdjust="spacingAndGlyphs" >85</text>
<text x="524.2" y="574.5" font-size="11" font-weight="normal" text-anchor="middle" fill="#000" stroke="#000" stroke-width="0.45" textLength="12.4" lengthAdjust="spacingAndGlyphs" >86</text>
<text x="558.2" y="574.5" font-size="11" font-weight="normal" text-anchor="middle" fill="#000" stroke="#000" stroke-width="0.45" textLength="12.4" lengthAdjust="spacingAndGlyphs" >87</text>
<text x="593" y="574.5" font-size="11" font-weight="normal" text-anchor="middle" fill="#000" stroke="#000" stroke-width="0.45" textLength="12.4" lengthAdjust="spacingAndGlyphs" >88</text>
<text x="604.1" y="564.4" font-size="11" font-weight="normal" text-anchor="middle" fill="#000" stroke="#000" stroke-width="0.45" textLength="13" lengthAdjust="spacingAndGlyphs" >83</text>
<text x="616.3" y="541.8" font-size="11" font-weight="normal" text-anchor="middle" fill="#000" stroke="#000" stroke-width="0.45" textLength="13" lengthAdjust="spacingAndGlyphs" >84</text>
<text x="627.8" y="519.7" font-size="11" font-weight="normal" text-anchor="middle" fill="#000" stroke="#000" stroke-width="0.45" textLength="13" lengthAdjust="spacingAndGlyphs" >85</text>
<text x="639.1" y="497.6" font-size="11" font-weight="normal" text-anchor="middle" fill="#000" stroke="#000" stroke-width="0.45" textLength="13" lengthAdjust="spacingAndGlyphs" >86</text>
<text x="649.5" y="475.3" font-size="11" font-weight="normal" text-anchor="middle" fill="#000" stroke="#000" stroke-width="0.45" textLength="13" lengthAdjust="spacingAndGlyphs" >87</text>
<text x="659.9" y="453.8" font-size="11" font-weight="normal" text-anchor="middle" fill="#000" stroke="#000" stroke-width="0.45" textLength="13" lengthAdjust="spacingAndGlyphs" >88</text>
<text x="479.2" y="596.4" font-size="13" font-weight="normal" text-anchor="middle" fill="#000" stroke="#000" stroke-width="0.45" textLength="107.5" lengthAdjust="spacingAndGlyphs" >T(m) of ITS1-ITS2</text>
<text transform="translate(348.1,496) rotate(-90)" font-size="12.8" font-weight="normal" text-anchor="middle" fill="#000" stroke="#000" stroke-width="0.45" textLength="103.5" lengthAdjust="spacingAndGlyphs" >T(m) of NL3-NL4</text>
<text transform="translate(658.8,524.6) rotate(-61)" font-size="14.3" font-weight="normal" text-anchor="middle" fill="#000" stroke="#000" stroke-width="0.45" textLength="108" lengthAdjust="spacingAndGlyphs" >T(m) of ITS3-ITS4</text>
</svg>
</body></html>
